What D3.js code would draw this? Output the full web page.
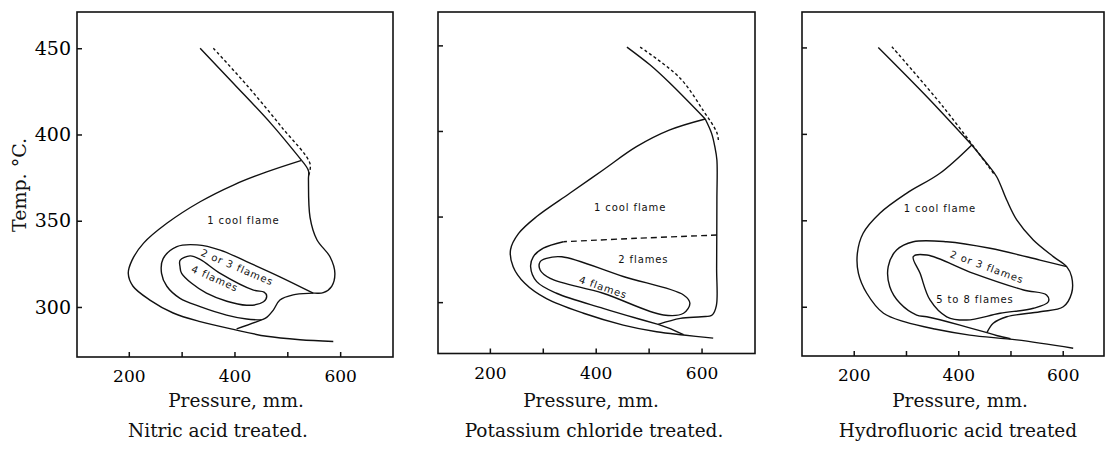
<!DOCTYPE html>
<html>
<head>
<meta charset="utf-8">
<title>Cool flame regions</title>
<script src="https://cdn.jsdelivr.net/npm/d3@7"></script>
<style>
  body { margin: 0; background: #fff; }
  .serif { font-family: "DejaVu Serif", serif; fill: #111; }
  .region { font-family: "DejaVu Sans", sans-serif; font-size: 10px; letter-spacing: 0.9px; fill: #111; }
  .curve { fill: none; stroke: #111; stroke-width: 1.4; }
  .frame { fill: none; stroke: #111; stroke-width: 1.6; }
</style>
</head>
<body>
<svg id="chart" width="1108" height="450"></svg>
<script>
  const pressureTicks = [200, 300, 400, 500, 600];
  const pressureLabels = [200, 400, 600];
  const tempTicks = [300, 350, 400, 450];
  const xTitle = "Pressure, mm.";
  const yTitle = "Temp. °C.";
  const panelTitles = ["Nitric acid treated.", "Potassium chloride treated.", "Hydrofluoric acid treated"];

  // curves as [pressure mm, temp °C]
  // nitric acid
  const nitIgnition = [[335, 450], [400, 429], [470, 406], [527, 385]];
  const nitDashed = [[360, 450], [425, 428], [490, 404], [543, 383], [540, 376]];
  const nitOuter = [[527, 385], [461, 378.3], [398, 370.7], [335, 361], [272, 348.5], [228, 337], [206, 327], [199, 319.5], [208, 312], [240, 304], [284, 296.5], [335, 291.5], [398, 287], [461, 283], [524, 281], [587, 280]];
  const nitRight = [[527, 385], [540, 379], [540, 374], [543, 352], [556, 339], [581, 329], [590, 319.5], [584, 312], [568, 308.3], [549, 308], [511, 307], [486, 304], [473.5, 298.2], [461, 294], [451, 292.5], [404, 287.3]];
  const nitTwoThree = [[549, 308], [486, 317.5], [423, 326.3], [373, 333], [329, 336], [291, 335], [265, 328], [262, 319.5], [272, 312], [297, 305], [335, 300.2], [385, 295.3], [423, 293], [451, 292.5]];
  const nitFour = [[297, 327], [316, 329.6], [335, 327.6], [373, 319.5], [436, 309.8], [456, 308.6], [461, 306.3], [455, 303], [423, 301], [347, 308], [300, 319.5], [297, 323.3]];
  const nitLabels = ["1 cool flame", "2 or 3 flames", "4 flames"];

  // potassium chloride
  const kclIgnition = [[459, 449], [503, 438.5], [540, 428], [607, 407]];
  const kclDashed = [[484, 449], [559, 431], [603, 412], [629, 399], [632, 394]];
  const kclOuter = [[607, 407], [540, 400.6], [477, 390.8], [414, 377.2], [351, 363.6], [288.5, 350], [254, 340], [239, 330.5], [244, 320.7], [266, 311], [307, 302], [377, 293.5], [452, 286.6], [515, 282.7], [566, 280.8], [622, 279]];
  const kclRight = [[607, 407], [619, 398.6], [625, 391], [629, 383], [629, 360], [628.5, 320], [628, 298], [620, 292.5], [600, 291.5], [560, 290.5], [518, 287]];
  const kclTail = [[518, 287], [547, 283.7], [566, 281]];
  const kclTwoDashed = [[629, 339.2], [477, 337.3], [339, 335.3]];
  const kclTwo = [[339, 335.3], [301, 331.5], [282, 326.5], [277, 320.7], [288.5, 312], [326, 305.2], [414, 296.4], [477, 290.6], [518, 287]];
  const kclFour = [[307, 325.6], [336, 326.5], [452, 315], [566, 304.2], [578, 299.3], [566, 293.5], [528, 292.5], [414, 305.2], [314, 313.9], [295, 318.8], [295, 323.6]];
  const kclLabels = ["1 cool flame", "2 flames", "4 flames"];

  // hydrofluoric acid
  const hfIgnition = [[247, 450], [340, 421.5], [426, 393.6]];
  const hfDashed = [[273, 450.4], [371, 415.7], [470, 376.2]];
  const hfOuter = [[426, 393.6], [365, 377.2], [301, 365.6], [250, 354.1], [218, 342.5], [207, 331], [209, 319.3], [225, 307.8], [257, 296.2], [298, 291.2], [355, 287.1], [422, 283.6], [512, 280.8], [620, 276]];
  const hfRight = [[426, 393.6], [454.5, 383], [473.6, 375.2], [492.8, 361.7], [512, 350.2], [543.7, 338.6], [582, 329], [607.6, 323.2], [617, 317.4], [617, 307.8], [601, 300], [556.5, 297.1], [492.8, 294.2], [467, 290.4], [455, 285]];
  const hfTail = [[455, 285], [475, 283.2], [500, 281.5]];
  const hfTwoThree = [[607.6, 323.2], [556.5, 327], [460.8, 333.8], [378, 337.6], [314, 337.6], [282, 332.8], [266, 323.2], [269, 311.6], [288.6, 302], [320.5, 295.2], [339.7, 294.2], [403.4, 289.4], [455, 285]];
  const hfFiveEight = [[314, 329], [340, 329.9], [429, 319.3], [525, 309.7], [569, 306.8], [572.5, 302.9], [544, 299.1], [480, 296.2], [416, 292.3], [378, 294.2], [346, 303.9], [327, 319.3]];
  const hfLabels = ["1 cool flame", "2 or 3 flames", "5 to 8 flames"];

  // layout of the three frames (scanned page, so they differ a little)
  const panels = [
    {
      px: [77, 393], py: [357, 12], pDom: [102, 700], tDom: [271, 471],
      titleX: 236, subX: 218, yLabels: true,
      curves: [
        { pts: nitIgnition }, { pts: nitDashed, dash: "3,2.5" }, { pts: nitOuter },
        { pts: nitRight }, { pts: nitTwoThree }, { pts: nitFour, closed: true }
      ],
      labels: [
        { text: nitLabels[0], at: [417, 350], rot: 0 },
        { text: nitLabels[1], at: [405, 323], rot: 23 },
        { text: nitLabels[2], at: [363, 316.5], rot: 24 }
      ]
    },
    {
      px: [438, 755], py: [353.5, 12], pDom: [102, 701], tDom: [270, 469.5],
      titleX: 591, subX: 594, yLabels: false,
      curves: [
        { pts: kclIgnition }, { pts: kclDashed, dash: "3,2.5" }, { pts: kclOuter },
        { pts: kclRight }, { pts: kclTail }, { pts: kclTwoDashed, dash: "6,4" },
        { pts: kclTwo }, { pts: kclFour, closed: true }
      ],
      labels: [
        { text: kclLabels[0], at: [465, 355], rot: 0 },
        { text: kclLabels[1], at: [490, 325], rot: 0 },
        { text: kclLabels[2], at: [414, 308.7], rot: 19 }
      ]
    },
    {
      px: [802, 1104], py: [356, 12], pDom: [101, 679], tDom: [271.5, 470.5],
      titleX: 960, subX: 958, yLabels: false,
      curves: [
        { pts: hfIgnition }, { pts: hfDashed, dash: "3,2.5" }, { pts: hfOuter },
        { pts: hfRight }, { pts: hfTail }, { pts: hfTwoThree }, { pts: hfFiveEight, closed: true }
      ],
      labels: [
        { text: hfLabels[0], at: [365, 357], rot: 0 },
        { text: hfLabels[1], at: [455, 323], rot: 20 },
        { text: hfLabels[2], at: [432, 304], rot: 0 }
      ]
    }
  ];

  const svg = d3.select("#chart");

  panels.forEach((pn, i) => {
    let x = d3.scaleLinear().domain(pn.pDom).range(pn.px);
    let y = d3.scaleLinear().domain(pn.tDom).range(pn.py);
    let g = svg.append("g");

    let open = d3.line().x(d => x(d[0])).y(d => y(d[1])).curve(d3.curveCatmullRom.alpha(0.5));
    let closed = d3.line().x(d => x(d[0])).y(d => y(d[1])).curve(d3.curveCatmullRomClosed.alpha(0.5));

    // ticks point inwards
    g.append("g")
      .attr("transform", `translate(0,${pn.py[0]})`)
      .call(d3.axisBottom(x).tickValues(pressureTicks).tickSizeInner(-5).tickSizeOuter(0).tickPadding(13)
        .tickFormat(d => pressureLabels.includes(d) ? d : ""))
      .attr("font-family", "DejaVu Serif, serif").attr("font-size", 17)
      .call(a => a.select(".domain").remove())
      .call(a => a.selectAll("line").attr("stroke", "#111").attr("stroke-width", 1.5));

    g.append("g")
      .attr("transform", `translate(${pn.px[0]},0)`)
      .call(d3.axisLeft(y).tickValues(tempTicks).tickSizeInner(-5).tickSizeOuter(0).tickPadding(6)
        .tickFormat(d => pn.yLabels ? d : ""))
      .attr("font-family", "DejaVu Serif, serif").attr("font-size", 19)
      .call(a => a.select(".domain").remove())
      .call(a => a.selectAll("line").attr("stroke", "#111").attr("stroke-width", 1.5));

    g.append("rect").attr("class", "frame")
      .attr("x", pn.px[0]).attr("y", pn.py[1])
      .attr("width", pn.px[1] - pn.px[0]).attr("height", pn.py[0] - pn.py[1]);

    pn.curves.forEach(c => {
      g.append("path").attr("class", "curve")
        .attr("d", c.closed ? closed(c.pts) : open(c.pts))
        .attr("stroke-dasharray", c.dash || null);
    });

    pn.labels.forEach(l => {
      g.append("text").attr("class", "region")
        .attr("text-anchor", "middle")
        .attr("dominant-baseline", "central")
        .attr("transform", `translate(${x(l.at[0])},${y(l.at[1])}) rotate(${l.rot})`)
        .text(l.text);
    });

    g.append("text").attr("class", "serif")
      .attr("x", pn.titleX).attr("y", 407)
      .attr("text-anchor", "middle").attr("font-size", 18.5)
      .text(xTitle);

    g.append("text").attr("class", "serif")
      .attr("x", pn.subX).attr("y", 437)
      .attr("text-anchor", "middle").attr("font-size", 18.5)
      .text(panelTitles[i]);
  });

  svg.append("text").attr("class", "serif")
    .attr("transform", "translate(19,185) rotate(-90)")
    .attr("text-anchor", "middle").attr("dominant-baseline", "central")
    .attr("font-size", 19)
    .text(yTitle);
</script>
</body>
</html>
